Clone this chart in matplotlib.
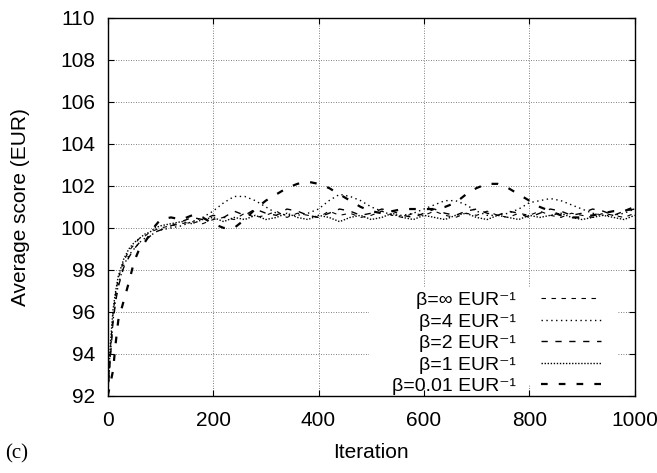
import matplotlib
matplotlib.use("Agg")
import matplotlib.pyplot as plt
from matplotlib.patches import Rectangle

plt.rcParams['font.family'] = ['Liberation Sans', 'DejaVu Sans']
plt.rcParams['font.size'] = 15

# iterations
iterations = [0, 5, 10, 15, 20, 30, 40, 50, 60, 70, 80, 90, 100,
              120, 140, 160, 180, 200, 220, 240, 260, 280, 300,
              320, 340, 360, 380, 400, 420, 440, 460, 480, 500,
              520, 540, 560, 580, 600, 620, 640, 660, 680, 700,
              720, 740, 760, 780, 800, 820, 840, 860, 880, 900,
              920, 940, 960, 980, 1000]

# average score (EUR) per beta
beta_inf = [92.0, 94.2, 95.9, 96.9, 97.6, 98.4, 98.9, 99.2, 99.5, 99.6, 99.8, 99.9, 100.0,
            100.1, 100.2, 100.3, 100.2, 100.4, 100.5, 100.4, 100.7, 100.5, 100.6,
            100.8, 100.5, 100.7, 100.6, 100.5, 100.8, 100.6, 100.7, 100.5, 100.6,
            100.8, 100.6, 100.5, 100.7, 100.6, 100.8, 100.6, 100.5, 100.7, 100.6,
            100.8, 100.6, 100.5, 100.7, 100.6, 100.8, 100.6, 100.5, 100.7, 100.6,
            100.5, 100.7, 100.6, 100.5, 100.7]
beta_4 = [92.0, 94.0, 95.6, 96.6, 97.3, 98.2, 98.7, 99.0, 99.3, 99.5, 99.6, 99.8, 99.9,
          100.0, 100.1, 100.3, 100.5, 100.8, 101.2, 101.5, 101.5, 101.3, 101.0,
          100.7, 100.6, 100.6, 100.7, 100.9, 101.3, 101.6, 101.5, 101.3, 101.0,
          100.8, 100.6, 100.6, 100.7, 100.9, 101.1, 101.3, 101.3, 101.1, 100.8,
          100.6, 100.6, 100.7, 100.9, 101.2, 101.3, 101.4, 101.3, 101.1, 100.9,
          100.7, 100.6, 100.6, 100.7, 100.9]
beta_2 = [92.0, 93.8, 95.5, 96.5, 97.2, 98.1, 98.6, 99.0, 99.3, 99.4, 99.6, 99.8, 99.9,
          100.1, 100.3, 100.5, 100.4, 100.6, 100.5, 100.8, 100.6, 100.9, 100.7,
          100.6, 100.9, 100.8, 100.6, 100.5, 100.7, 100.9, 100.8, 100.6, 100.7,
          100.9, 100.8, 100.6, 100.5, 100.7, 100.9, 100.7, 100.6, 100.8, 100.9,
          100.7, 100.6, 100.8, 100.7, 100.5, 100.7, 100.9, 100.8, 100.6, 100.7,
          100.9, 100.8, 100.6, 100.8, 100.9]
beta_1 = [92.0, 94.5, 96.1, 97.0, 97.7, 98.5, 99.0, 99.3, 99.5, 99.7, 99.8, 100.0, 100.1,
          100.2, 100.3, 100.2, 100.4, 100.5, 100.3, 100.5, 100.4, 100.6, 100.4,
          100.5, 100.7, 100.5, 100.4, 100.6, 100.5, 100.3, 100.5, 100.6, 100.4,
          100.5, 100.7, 100.5, 100.4, 100.6, 100.5, 100.4, 100.6, 100.7, 100.5,
          100.4, 100.6, 100.5, 100.4, 100.6, 100.5, 100.6, 100.7, 100.5, 100.4,
          100.5, 100.6, 100.5, 100.4, 100.6]
beta_001 = [92.0, 92.6, 93.2, 94.5, 95.6, 96.5, 97.4, 98.4, 99.0, 99.3, 99.7, 100.1, 100.4,
            100.5, 100.4, 100.6, 100.5, 100.2, 100.0, 100.0, 100.4, 100.9, 101.3,
            101.6, 101.9, 102.1, 102.2, 102.1, 101.9, 101.6, 101.3, 101.0, 100.8,
            100.7, 100.8, 100.9, 100.9, 100.9, 100.9, 101.0, 101.2, 101.6, 101.9,
            102.1, 102.1, 101.9, 101.6, 101.3, 101.0, 100.8, 100.6, 100.5, 100.5,
            100.6, 100.7, 100.8, 100.8, 101.0]

labels = ['β=∞ EUR⁻¹', 'β=4 EUR⁻¹', 'β=2 EUR⁻¹', 'β=1 EUR⁻¹', 'β=0.01 EUR⁻¹']

fig = plt.figure(figsize=(6.57, 4.73), dpi=100)
ax = fig.add_axes([0.164, 0.163, 0.802, 0.799])

ax.plot(iterations, beta_inf, color='black', lw=0.8, dashes=(4, 5), label=labels[0])
ax.plot(iterations, beta_4, color='black', lw=1.0, dashes=(1, 2.5), label=labels[1])
ax.plot(iterations, beta_2, color='black', lw=1.0, dashes=(4.5, 5.5), label=labels[2])
ax.plot(iterations, beta_1, color='black', lw=1.0, dashes=(1, 1.2), label=labels[3])
ax.plot(iterations, beta_001, color='black', lw=1.6, dashes=(3, 5), label=labels[4])

ax.set_xlim(0, 1000)
ax.set_ylim(92, 110)
ax.set_xticks(range(0, 1001, 200))
ax.set_yticks(range(92, 111, 2))
ax.grid(True, color='#555555', linestyle=(0, (1, 2)), lw=0.6)
ax.tick_params(direction='in', top=True, right=True, length=4.5, labelsize=15)
ax.tick_params(axis='x', pad=11)
ax.tick_params(axis='y', pad=9)
for s in ax.spines.values():
    s.set_linewidth(1.0)

ax.set_xlabel('Iteration', fontsize=15, labelpad=9)
ax.set_ylabel('Average score (EUR)', fontsize=15, labelpad=22)

# key area hides the grid behind it
ax.add_patch(Rectangle((0.495, 0.03), 0.471, 0.258, transform=ax.transAxes,
                       facecolor='white', edgecolor='none', zorder=1.8))

leg = ax.legend(loc='lower right', bbox_to_anchor=(0.937, 0.002), markerfirst=False,
                handlelength=3.1, handletextpad=1.3, labelspacing=0.2,
                borderpad=0.0, borderaxespad=0.0, fontsize=14, frameon=False)

fig.text(0.008, 0.03, '(c)', family='Liberation Serif', fontsize=15)

fig.savefig('out.png', dpi=100)
